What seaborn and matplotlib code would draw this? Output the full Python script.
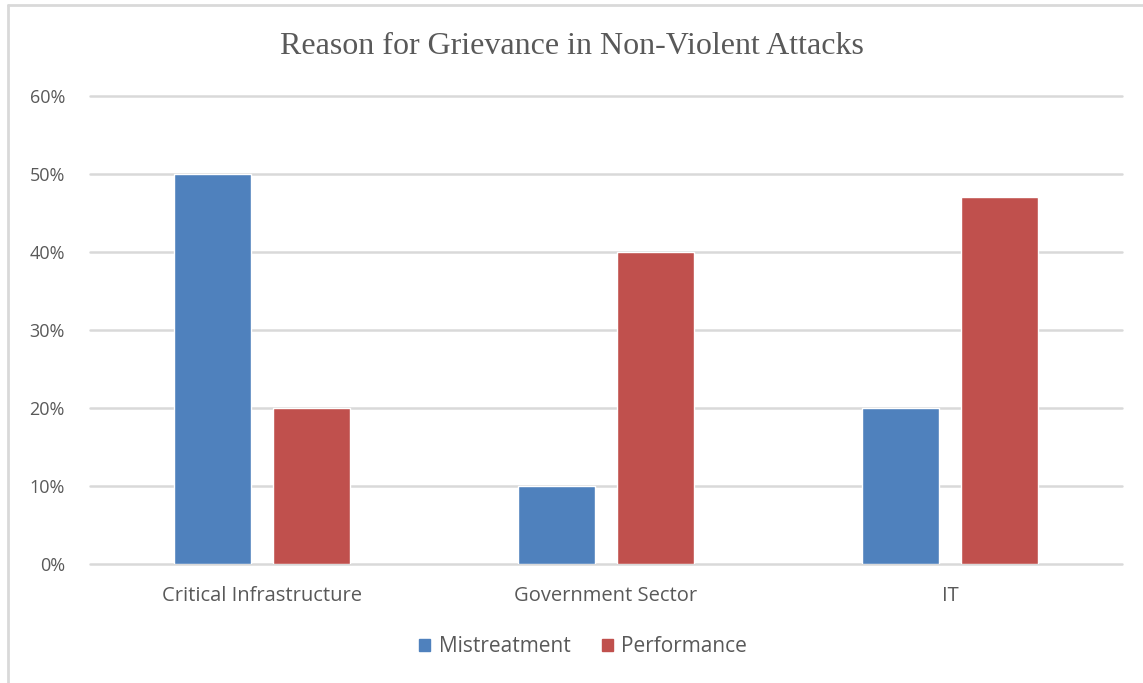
import matplotlib
matplotlib.use("Agg")
import matplotlib.pyplot as plt
from matplotlib.lines import Line2D
from matplotlib.ticker import PercentFormatter
import seaborn as sns
import pandas as pd

categories = ["Critical Infrastructure", "Government Sector", "IT"]
mistreatment = [0.50, 0.10, 0.20]
performance = [0.20, 0.40, 0.47]
series_names = ["Mistreatment", "Performance"]
colors = ["#4F81BD", "#C0504D"]
yticks = [0.0, 0.1, 0.2, 0.3, 0.4, 0.5, 0.6]

df = pd.DataFrame({
    "Sector": categories * 2,
    "Reason": [series_names[0]] * 3 + [series_names[1]] * 3,
    "Share": mistreatment + performance,
})

sns.set_theme(style="white")
plt.rcParams["font.family"] = ["Open Sans", "DejaVu Sans"]
text_color = "#595959"
grid_color = "#D9D9D9"

fig = plt.figure(figsize=(11.43, 6.83), dpi=100)
ax = fig.add_axes([90 / 1143, 119 / 683, 1032 / 1143, 468 / 683])

sns.barplot(data=df, x="Sector", y="Share", hue="Reason",
            palette=colors, width=0.58, gap=0.23, ax=ax,
            saturation=1, legend=False, zorder=3)

ax.set_ylim(0, 0.6)
ax.set_xlim(-0.5, 2.5)
ax.set_yticks(yticks)
ax.yaxis.set_major_formatter(PercentFormatter(1.0, decimals=0))
ax.grid(axis="y", color=grid_color, linewidth=1.8, zorder=0)
ax.grid(axis="x", visible=False)
for gl in ax.get_ygridlines():
    gl.set_clip_on(False)
for s in ax.spines.values():
    s.set_visible(False)
ax.set_xlabel("")
ax.set_ylabel("")
ax.tick_params(axis="both", length=0, colors=text_color)
ax.tick_params(axis="y", pad=18, labelsize=13)
ax.tick_params(axis="x", pad=16, labelsize=14.5)
for lbl in ax.get_xticklabels() + ax.get_yticklabels():
    lbl.set_color(text_color)

fig.text(0.5, 1 - 46 / 683, "Reason for Grievance in Non-Violent Attacks",
         ha="center", va="center", fontsize=23, color=text_color,
         family="Liberation Serif")

handles = [plt.Rectangle((0, 0), 1, 1, color=c) for c in colors]
fig.legend(handles, series_names, loc="center", bbox_to_anchor=(583 / 1143, 1 - 647 / 683),
           ncol=2, frameon=False, fontsize=15, labelcolor=text_color,
           handlelength=0.55, handleheight=0.55, handletextpad=0.4, columnspacing=1.5)

# outer frame (top and left edges)
fig.add_artist(Line2D([8 / 1143, 1], [1 - 5 / 683, 1 - 5 / 683],
                      transform=fig.transFigure, color=grid_color, linewidth=2))
fig.add_artist(Line2D([8 / 1143, 8 / 1143], [0, 1 - 5 / 683],
                      transform=fig.transFigure, color=grid_color, linewidth=2))

fig.savefig("out.png", dpi=100)
